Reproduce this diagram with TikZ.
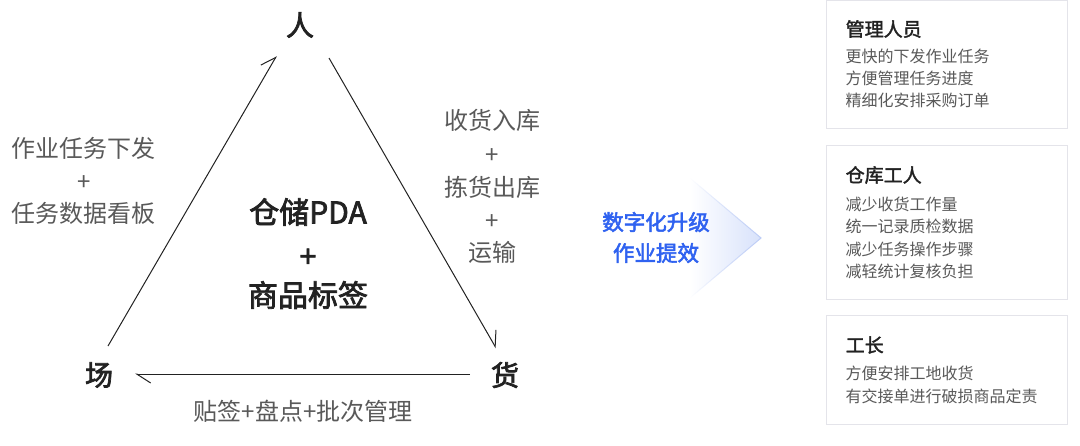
\documentclass[tikz,border=0pt]{standalone}
\usepackage{fontspec}
\setmainfont{Noto Sans CJK SC}
\newfontfamily\medf{Noto Sans CJK SC}[FakeBold=2.6]
\newfontfamily\semif{Noto Sans CJK SC}[FakeBold=1.8]
\usetikzlibrary{arrows.meta,fadings}
\definecolor{ink}{HTML}{222222}
\definecolor{gtext}{HTML}{595959}
\definecolor{bluetxt}{HTML}{2F62F0}
\definecolor{boxline}{HTML}{E4E4EA}
\definecolor{chev}{HTML}{D8E2FB}
\definecolor{chevline}{HTML}{BCCCF6}
\tikzset{
  corner/.style={font=\fontsize{28}{30}\selectfont\medf, text=ink, inner sep=0pt},
  glabel/.style={font=\fontsize{24}{26}\selectfont, text=gtext, inner sep=0pt},
  center/.style={font=\fontsize{30}{32}\selectfont\medf, text=ink, inner sep=0pt},
  conn/.style={draw=ink, line width=1pt, -{Straight Barb[harpoon,length=14pt,width=18pt,line width=1pt]}},
  card/.style={draw=boxline, line width=1pt, fill=white},
  cardtitle/.style={font=\fontsize{19}{22}\selectfont\semif, text=ink, inner sep=0pt, anchor=west},
  cardline/.style={font=\fontsize{16}{18}\selectfont, text=gtext, inner sep=0pt, anchor=west},
  bluelbl/.style={font=\fontsize{21.5}{24}\selectfont\medf, text=bluetxt, inner sep=0pt},
}
\begin{document}
\begin{tikzpicture}[x=1pt,y=-1pt]
\useasboundingbox (0,0) rectangle (1080,445);
% corner labels
\node[corner] (ren) at (300,25) {人};
\node[corner] (chang) at (99,375) {场};
\node[corner] (huo) at (505,375) {货};
% connectors
\coordinate (lA) at (108,346);
\coordinate (lB) at (276.5,56);
\coordinate (rA) at (329,58);
\coordinate (rB) at (496,348);
\coordinate (bA) at (470,374);
\coordinate (bB) at (135,374);
\draw[conn] (lA) -- (lB);
\draw[conn] (rA) -- (rB);
\draw[conn] (bA) -- (bB);
% left labels
\node[glabel] (l1) at (84,148) {作业任务下发};
\node[glabel] (l2) at (84,183) {+};
\node[glabel] (l3) at (84,213) {任务数据看板};
% right labels
\node[glabel] (r1) at (492,120) {收货入库};
\node[glabel] (r2) at (492,156) {+};
\node[glabel] (r3) at (492,187) {拣货出库};
\node[glabel] (r4) at (492,222) {+};
\node[glabel] (r5) at (492,252) {运输};
% bottom label
\node[glabel] (b1) at (303,411) {贴签+盘点+批次管理};
% center
\node[center] (c1) at (308,212) {仓储PDA};
\node[center] (c2) at (308,258) {+};
\node[center] (c3) at (308,295) {商品标签};
% chevron
\shade[left color=white, right color=chev] (690,178) -- (761,238) -- (690,298) -- cycle;
\draw[chevline, line width=1pt, path fading=west] (690,178) -- (761,238) -- (690,298);
\node[bluelbl] (u1) at (656,222) {数字化升级};
\node[bluelbl] (u2) at (656,253) {作业提效};
% cards
\draw[card] (826.5,0.5) rectangle (1067.5,128.5);
\node[cardtitle] (t1) at (845.5,29) {管理人员};
\node[cardline] (t1a) at (845.5,56) {更快的下发作业任务};
\node[cardline] (t1b) at (845.5,78) {方便管理任务进度};
\node[cardline] (t1c) at (845.5,100) {精细化安排采购订单};
\draw[card] (826.5,145.5) rectangle (1067.5,299.5);
\node[cardtitle] (t2) at (845.5,175) {仓库工人};
\node[cardline] (t2a) at (845.5,204) {减少收货工作量};
\node[cardline] (t2b) at (845.5,226.5) {统一记录质检数据};
\node[cardline] (t2c) at (845.5,249) {减少任务操作步骤};
\node[cardline] (t2d) at (845.5,271.5) {减轻统计复核负担};
\draw[card] (826.5,315.5) rectangle (1067.5,424.5);
\node[cardtitle] (t3) at (845.5,345) {工长};
\node[cardline] (t3a) at (845.5,373) {方便安排工地收货};
\node[cardline] (t3b) at (845.5,396) {有交接单进行破损商品定责};
\end{tikzpicture}
\end{document}
